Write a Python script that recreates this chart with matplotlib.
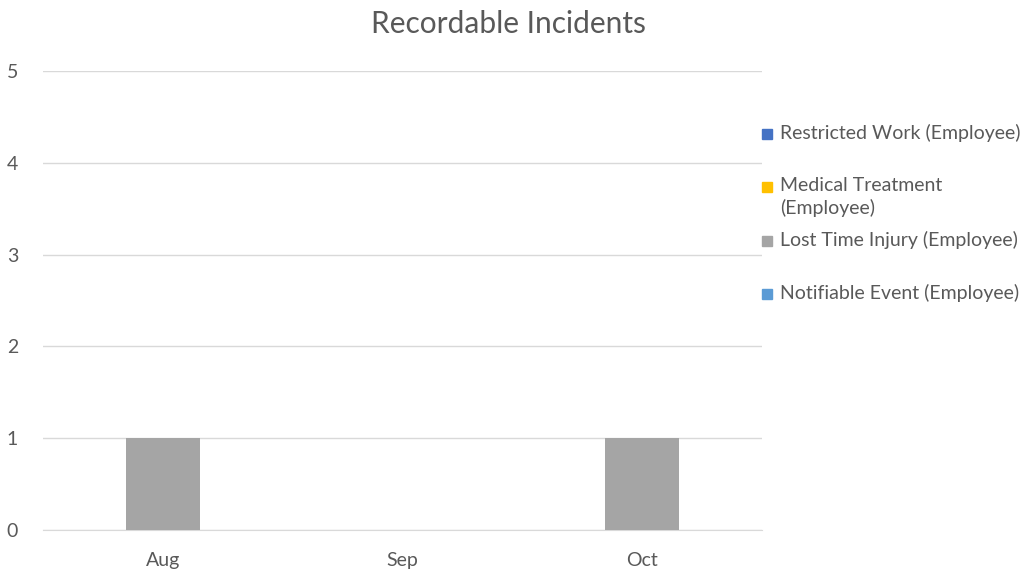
import matplotlib
matplotlib.use("Agg")
import matplotlib.pyplot as plt
import numpy as np

months = ["Aug", "Sep", "Oct"]
series_names = ["Restricted Work (Employee)", "Medical Treatment\n(Employee)",
                "Lost Time Injury (Employee)", "Notifiable Event (Employee)"]
restricted_work = [0, 0, 0]
medical_treatment = [0, 0, 0]
lost_time_injury = [1, 0, 1]
notifiable_event = [0, 0, 0]
colors = ["#4472C4", "#FFC000", "#A5A5A5", "#5B9BD5"]

plt.rcParams['font.family'] = ['Lato', 'DejaVu Sans']
txt = "#595959"

fig = plt.figure(figsize=(10.27, 5.71), dpi=100)
ax = fig.add_axes([43/1027, 41/571, (762-43)/1027, (530-71)/571])

x = np.arange(len(months))
bottom = np.zeros(len(months))
for vals, c in zip([restricted_work, medical_treatment, lost_time_injury, notifiable_event], colors):
    ax.bar(x, vals, width=0.31, bottom=bottom, color=c, zorder=3)
    bottom += np.array(vals)

ax.set_xlim(-0.5, 2.5)
ax.set_ylim(0, 5)
ax.set_yticks(range(6))
ax.set_xticks(x)
ax.set_xticklabels(months)
ax.grid(axis="y", color="#D9D9D9", linewidth=1, zorder=0)
for s in ["top", "right", "left"]:
    ax.spines[s].set_visible(False)
ax.spines["bottom"].set_color("#D9D9D9")
ax.tick_params(length=0, labelsize=14, labelcolor=txt)
ax.tick_params(axis="x", pad=16)
ax.tick_params(axis="y", pad=18)

fig.text(508/1027, 1 - 24/571, "Recordable Incidents", ha="center", va="center",
         fontsize=21.5, color=txt)

# legend, one slot per series like excel does it
for i, (name, c) in enumerate(zip(series_names, colors)):
    ytop = 1 - (125 + i*53.3)/571
    fig.patches.append(matplotlib.patches.Rectangle((762/1027, ytop - 14/571), 10/1027, 10/571,
                                                    transform=fig.transFigure, color=c))
    fig.text(780/1027, ytop + 1/571, name, ha="left", va="top", fontsize=14, color=txt,
             linespacing=1.3)

fig.savefig("out.png", dpi=100)
